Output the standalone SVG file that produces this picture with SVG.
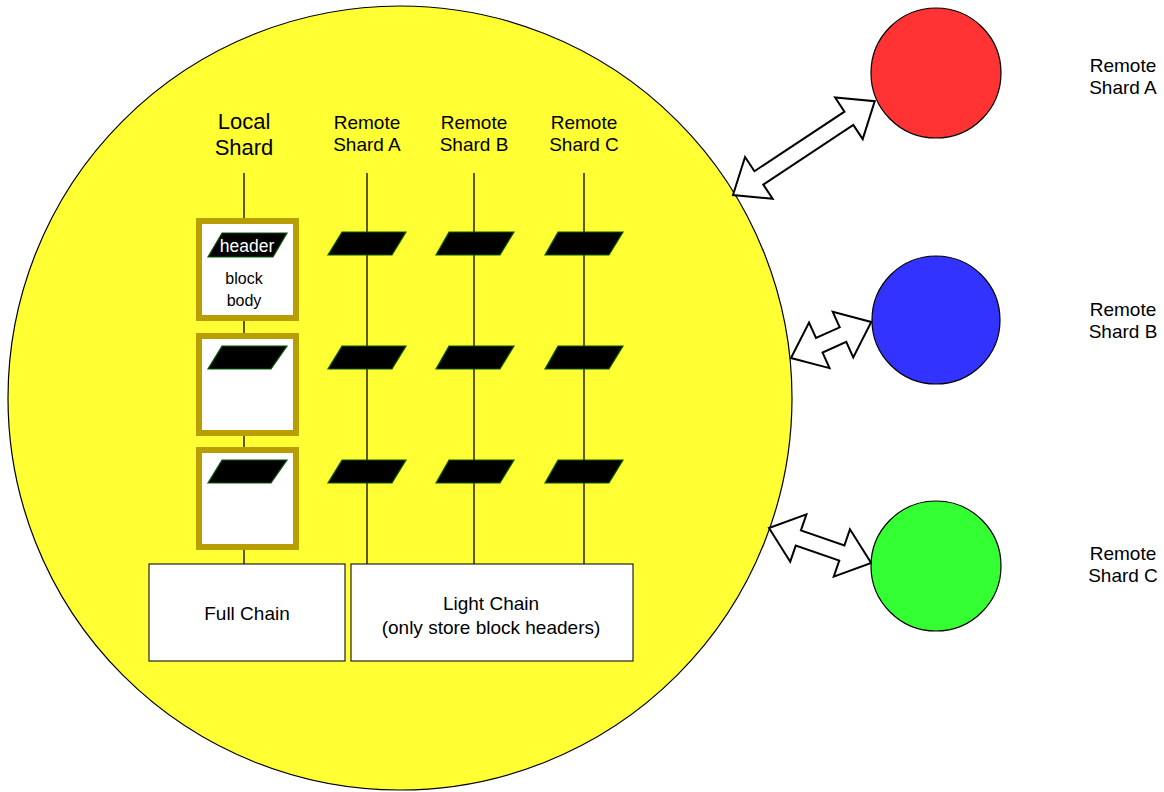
<svg xmlns="http://www.w3.org/2000/svg" width="1164" height="792" viewBox="0 0 1164 792">
<defs>
<style>
text{font-family:"Liberation Sans",Arial,sans-serif;fill:#000;text-anchor:middle}
.big{font-size:22px}
.lbl{font-size:19px}
.sm{font-size:16px}
.hdrt{font-size:17.5px;fill:#fff}
.hdr{fill:#000;stroke:#0a5a0a;stroke-width:1.2}
.blk{fill:#fff;stroke:#b89e00;stroke-width:6}
.box{fill:#fff;stroke:#222;stroke-width:1.2}
.line{stroke:#000;stroke-width:1.3;fill:none}
.arrow{fill:#fff;stroke:#000;stroke-width:2;stroke-linejoin:miter}
.ball{stroke:#000;stroke-width:1.2}
</style>
</defs>
<rect width="1164" height="792" fill="#fff"/>
<g id="local-node">
<circle cx="400" cy="398" r="392" fill="#ffff33" stroke="#000" stroke-width="1.2"/>
</g>
<g id="labels">
<text class="big" x="244" y="129">Local</text>
<text class="big" x="244" y="155">Shard</text>
<text class="lbl" x="367" y="129">Remote</text>
<text class="lbl" x="367" y="151">Shard A</text>
<text class="lbl" x="474" y="129">Remote</text>
<text class="lbl" x="474" y="151">Shard B</text>
<text class="lbl" x="584" y="129">Remote</text>
<text class="lbl" x="584" y="151">Shard C</text>
</g>
<g id="chain-lines">
<line class="line" x1="244" y1="173" x2="244" y2="564"/>
<line class="line" x1="367" y1="173" x2="367" y2="564"/>
<line class="line" x1="474" y1="173" x2="474" y2="564"/>
<line class="line" x1="584" y1="173" x2="584" y2="564"/>
</g>
<g id="block-1">
<rect class="blk" x="199" y="221" width="97" height="97"/>
<polygon class="hdr" points="222,233 287,233 273,257 208,257"/>
<text class="hdrt" x="247" y="252">header</text>
<text class="sm" x="244" y="284">block</text>
<text class="sm" x="244" y="306">body</text>
</g>
<g id="block-2">
<rect class="blk" x="199" y="336" width="97" height="97"/>
<polygon class="hdr" points="222,346 287,346 271,369 208,369"/>
</g>
<g id="block-3">
<rect class="blk" x="199" y="450" width="97" height="97"/>
<polygon class="hdr" points="222,460 287,460 271,483 208,483"/>
</g>
<g id="remote-headers">
<polygon class="hdr" points="342,232 406,232 392,255 328,255"/>
<polygon class="hdr" points="449,232 514,232 500,255 436,255"/>
<polygon class="hdr" points="558,232 623,232 609,255 545,255"/>
<polygon class="hdr" points="342,346 406,346 392,369 328,369"/>
<polygon class="hdr" points="449,346 514,346 500,369 436,369"/>
<polygon class="hdr" points="558,346 623,346 609,369 545,369"/>
<polygon class="hdr" points="342,460 406,460 392,483 328,483"/>
<polygon class="hdr" points="449,460 514,460 500,483 436,483"/>
<polygon class="hdr" points="558,460 623,460 609,483 545,483"/>
</g>
<g id="full-chain">
<rect class="box" x="149" y="564" width="196" height="97"/>
<text class="lbl" x="247" y="620">Full Chain</text>
</g>
<g id="light-chain">
<rect class="box" x="351" y="564" width="282" height="97"/>
<text class="lbl" x="491" y="610">Light Chain</text>
<text class="lbl" x="491" y="634">(only store block headers)</text>
</g>
<g id="connectors">
<polygon class="arrow" transform="translate(733,195) rotate(-33.5)" points="0,0 31,-25 31,-8 139,-8 139,-25 170,0 139,25 139,8 31,8 31,25"/>
<polygon class="arrow" transform="translate(791,358) rotate(-24.2)" points="0,0 31,-25 31,-8 57,-8 57,-25 88,0 57,25 57,8 31,8 31,25"/>
<polygon class="arrow" transform="translate(769,528) rotate(18.9)" points="0,0 31,-25 31,-8 77,-8 77,-25 108,0 77,25 77,8 31,8 31,25"/>
</g>
<g id="remote-a">
<circle class="ball" cx="936" cy="73" r="65" fill="#ff3333"/>
<text class="lbl" x="1123" y="72">Remote</text>
<text class="lbl" x="1123" y="94">Shard A</text>
</g>
<g id="remote-b">
<circle class="ball" cx="936" cy="320" r="64" fill="#3333ff"/>
<text class="lbl" x="1123" y="316">Remote</text>
<text class="lbl" x="1123" y="338">Shard B</text>
</g>
<g id="remote-c">
<circle class="ball" cx="936" cy="566" r="65" fill="#33ff33"/>
<text class="lbl" x="1123" y="560">Remote</text>
<text class="lbl" x="1123" y="582">Shard C</text>
</g>
</svg>
